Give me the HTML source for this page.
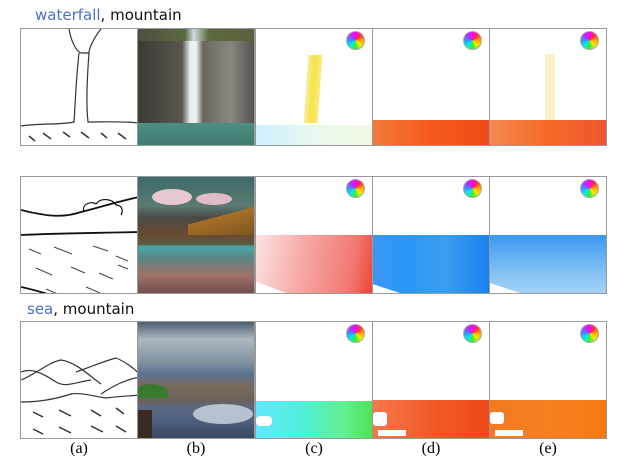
<!DOCTYPE html>
<html><head><meta charset="utf-8"><style>
body{margin:0;width:628px;height:470px;background:#fff;position:relative;overflow:hidden;font-family:"Liberation Serif",serif}
.p{position:absolute;box-sizing:border-box;border:1px solid #999;overflow:hidden;background:#fff}
.w{position:absolute;width:19px;height:19px;border-radius:50%;background:conic-gradient(from 0deg,#f0f,#f33,#fa0,#ee0,#3e3,#0ee,#39f,#a3f,#f0f);border:1px solid #aaa;box-sizing:border-box}
.t{position:absolute;font-family:"Comic Sans MS","DejaVu Sans",sans-serif;font-size:15px;color:#111}
.t b{font-weight:normal;color:#4a6fc8}
.l{position:absolute;top:440px;font-size:16px;width:40px;text-align:center}
</style></head><body>
<div class="t" style="left:35px;top:6px"><b>waterfall</b>, mountain</div>
<div class="t" style="left:27px;top:300px"><b>sea</b>, mountain</div>

<!-- Row 1 -->
<div class="p" style="left:20px;top:28px;width:118px;height:118px"><svg width="118" height="118" stroke="#333" fill="none" stroke-width="1.2"><path d="M48 0 C50 12 55 22 60 24 M80 0 C72 10 68 20 68 24 M60 24 L68 24 M58 24 C55 50 54 80 53 93 C40 96 20 94 0 97 M68 24 C66 50 65 75 67 93 C80 93 100 92 118 94"/><g stroke-width="1.5"><path d="M8 107l6 5M22 104l8 6M42 103l7 5M60 103l8 6M80 104l6 5M97 104l8 6"/></g></svg></div>
<div class="p" style="left:137px;top:28px;width:118px;height:118px;background:linear-gradient(90deg,#3d3a35 0%,#5a5650 38%,#e8eef0 45%,#eef2f2 50%,#6a6660 56%,#8a8680 80%,#55524c 100%)"><div style="position:absolute;left:0;top:0;width:118px;height:12px;background:linear-gradient(90deg,#4a5040,#5c6a40 40%,#cfd9dc 47%,#5c6a3c 60%,#5b6040)"></div><div style="position:absolute;left:0;top:94px;width:118px;height:24px;background:linear-gradient(#4f8e82,#3f7a6e)"></div></div>
<div class="p" style="left:255px;top:28px;width:118px;height:118px"><div style="position:absolute;left:50px;top:26px;width:14px;height:68px;background:linear-gradient(90deg,#f6ec90,#f5e030,#f8ea70);transform:skewX(-4deg);opacity:.9"></div><div style="position:absolute;left:0;top:96px;width:118px;height:22px;background:linear-gradient(90deg,#cfefff,#e8f8ef 50%,#f3f7e0)"></div><div class="w" style="left:90px;top:2px"></div></div>
<div class="p" style="left:372px;top:28px;width:118px;height:118px"><div style="position:absolute;left:0;top:91px;width:118px;height:27px;background:linear-gradient(90deg,#f07a3a,#f55a1a 50%,#f04a18)"></div><div class="w" style="left:90px;top:2px"></div></div>
<div class="p" style="left:489px;top:28px;width:118px;height:118px"><div style="position:absolute;left:55px;top:25px;width:10px;height:66px;background:#f8f0c8"></div><div style="position:absolute;left:0;top:91px;width:118px;height:27px;background:linear-gradient(90deg,#f28a50,#f46a26 50%,#ee5530)"></div><div class="w" style="left:90px;top:2px"></div></div>

<!-- Row 2 -->
<div class="p" style="left:20px;top:176px;width:118px;height:118px"><svg width="118" height="118" stroke="#111" fill="none" stroke-width="1.8"><path d="M0 33 C20 38 40 42 60 35 C80 30 95 25 118 20 M0 58 C40 56 80 56 118 55 M0 110 C10 112 20 115 30 118"/><path stroke-width="1.2" d="M63 35 C60 26 72 24 75 27 C80 20 92 22 95 28 C102 28 102 35 100 38"/><g stroke-width="1" stroke="#444"><path d="M8 72l12 5M33 70l18 7M72 69l15 5M95 79l12 5M15 91l16 7M50 90l14 6M78 96l14 6M25 112l14 6M65 110l14 6M97 88l10 4"/></g></svg></div>
<div class="p" style="left:137px;top:176px;width:118px;height:118px;background:linear-gradient(#3f6a68 0%,#5a7a72 25%,#4a4a48 35%,#6a4a30 50%,#5a5a40 58%,#4aa8a6 60%,#5a8686 70%,#a07068 85%,#705050 100%)"><div style="position:absolute;left:14px;top:12px;width:40px;height:16px;border-radius:50%;background:#e8c8d0"></div><div style="position:absolute;left:58px;top:16px;width:36px;height:12px;border-radius:50%;background:#e0bcc8"></div><div style="position:absolute;left:50px;top:28px;width:68px;height:30px;background:linear-gradient(165deg,transparent 40%,#a87028 41%,#7a5520)"></div></div>
<div class="p" style="left:255px;top:176px;width:118px;height:118px"><div style="position:absolute;left:0;top:58px;width:118px;height:60px;background:linear-gradient(100deg,#fbe4e4,#f6a8a4 40%,#f07870 80%,#ee4030);clip-path:polygon(0 0,100% 0,100% 100%,30% 100%,0 78%)"></div><div class="w" style="left:90px;top:2px"></div></div>
<div class="p" style="left:372px;top:176px;width:118px;height:118px"><div style="position:absolute;left:0;top:58px;width:118px;height:60px;background:linear-gradient(90deg,#3a96f0,#2a98f8 30%,#3a9ef0 60%,#1a80f0);clip-path:polygon(0 0,100% 0,100% 100%,28% 100%,0 82%)"></div><div class="w" style="left:90px;top:2px"></div></div>
<div class="p" style="left:489px;top:176px;width:118px;height:118px"><div style="position:absolute;left:0;top:58px;width:118px;height:60px;background:linear-gradient(#3a98f0,#80c0f4 60%,#a8d4f6);clip-path:polygon(0 0,100% 0,100% 100%,30% 100%,0 80%)"></div><div class="w" style="left:90px;top:2px"></div></div>

<!-- Row 3 -->
<div class="p" style="left:20px;top:321px;width:118px;height:118px"><svg width="118" height="118" stroke="#333" fill="none" stroke-width="1.2"><path d="M0 58 C15 52 28 40 40 38 C55 40 70 55 80 62 M0 50 C10 46 20 50 35 60 C45 66 55 60 70 58 M55 50 C70 45 80 40 95 36 C105 40 115 48 118 52 M80 72 C95 62 105 58 118 55 M0 80 C20 80 35 77 50 72 C60 70 75 75 85 76 C100 74 110 74 118 73"/><g stroke-width="1.5"><path d="M12 90l10 5M38 88l12 6M70 88l10 6M95 86l8 6M12 107l10 5M38 105l12 6M70 104l12 6M95 104l10 6"/></g></svg></div>
<div class="p" style="left:137px;top:321px;width:118px;height:118px;background:linear-gradient(#4a5e70 0%,#aeb8c0 15%,#8090a0 35%,#5a7290 45%,#7a6a5c 55%,#6a625a 68%,#5a6a80 73%,#4e6080 85%,#3a4860 100%)"><div style="position:absolute;left:0;top:62px;width:30px;height:14px;background:#3a7a30;border-radius:40% 60% 0 0"></div><div style="position:absolute;left:55px;top:82px;width:60px;height:20px;border-radius:50%;background:#d0dae4;opacity:.8"></div><div style="position:absolute;left:0;top:88px;width:14px;height:30px;background:#3a2a24"></div></div>
<div class="p" style="left:255px;top:321px;width:118px;height:118px"><div style="position:absolute;left:0;top:79px;width:118px;height:39px;background:linear-gradient(90deg,#60e8ff,#50f0d8 40%,#60f090 75%,#50e050)"></div><div style="position:absolute;left:0;top:94px;width:16px;height:10px;background:#fff;border-radius:4px"></div><div class="w" style="left:90px;top:2px"></div></div>
<div class="p" style="left:372px;top:321px;width:118px;height:118px"><div style="position:absolute;left:0;top:78px;width:118px;height:40px;background:linear-gradient(90deg,#f5784a,#f25a28 50%,#f04818)"></div><div style="position:absolute;left:0;top:90px;width:14px;height:14px;background:#fff;border-radius:3px"></div><div style="position:absolute;left:5px;top:108px;width:28px;height:6px;background:#fff"></div><div class="w" style="left:90px;top:2px"></div></div>
<div class="p" style="left:489px;top:321px;width:118px;height:118px"><div style="position:absolute;left:0;top:78px;width:118px;height:40px;background:linear-gradient(90deg,#f37a20,#f58020 50%,#f77a10)"></div><div style="position:absolute;left:0;top:90px;width:14px;height:12px;background:#fff;border-radius:3px"></div><div style="position:absolute;left:5px;top:108px;width:28px;height:6px;background:#fff"></div><div class="w" style="left:90px;top:2px"></div></div>

<div class="l" style="left:59px">(a)</div>
<div class="l" style="left:176px">(b)</div>
<div class="l" style="left:294px">(c)</div>
<div class="l" style="left:411px">(d)</div>
<div class="l" style="left:528px">(e)</div>
</body></html>
